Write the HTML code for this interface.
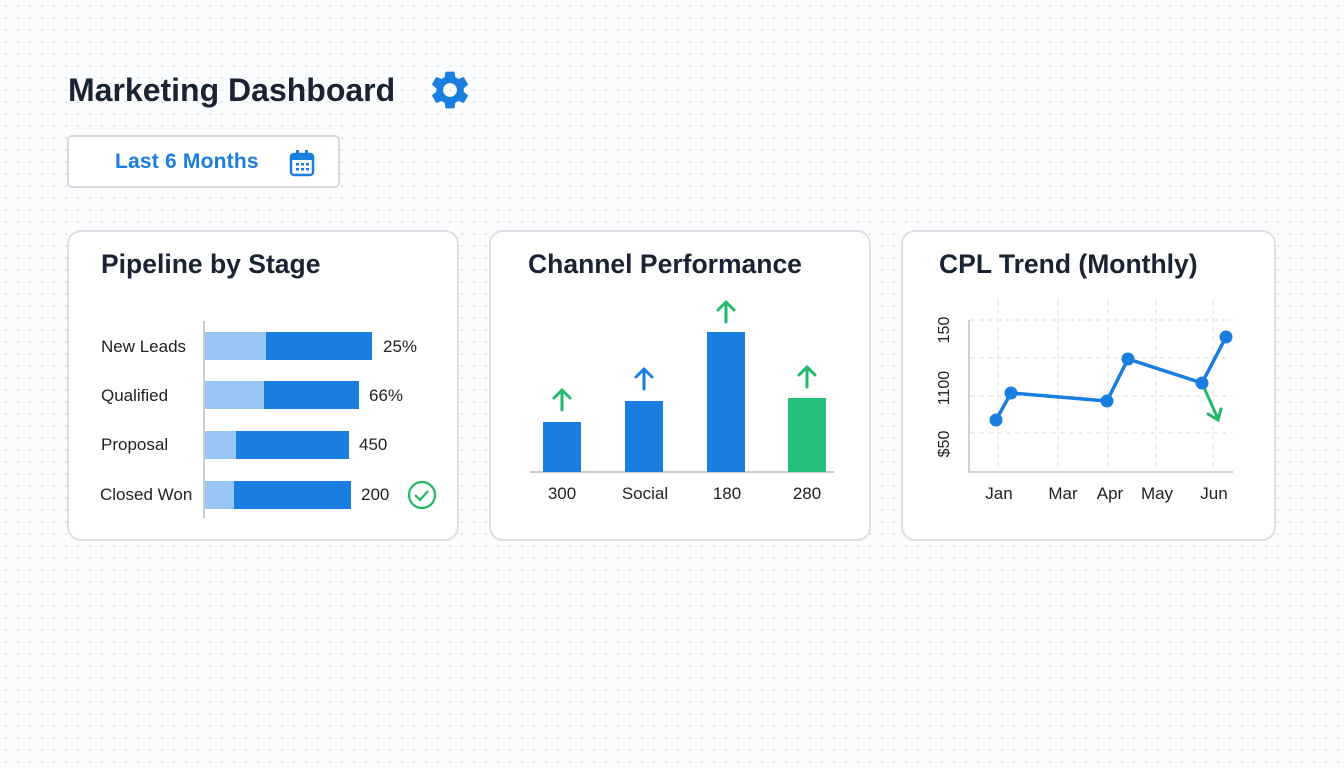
<!DOCTYPE html>
<html><head><style>
body{margin:0;width:1344px;height:768px;background:#fbfcfd;background-image:radial-gradient(#dfe3e8 1px,transparent 1.2px);background-size:12px 12px;font-family:"Liberation Sans",sans-serif;position:relative;overflow:hidden}
.abs{position:absolute}
.card{position:absolute;background:#fff;border:2px solid #dcdfe3;border-radius:14px;box-sizing:border-box}
.t{position:absolute;font-weight:bold;color:#1a2333;font-size:26.5px}
</style></head><body>
<div class="abs" style="left:68px;top:72px;font-size:32px;font-weight:bold;color:#1a2333">Marketing Dashboard</div>
<svg class="abs" style="left:427px;top:67px" width="46" height="46" viewBox="0 0 24 24"><path fill="#1a7de0" d="M19.14 12.94a7.07 7.07 0 000-1.88l2.030-1.58a.5.5 0 00.12-.61l-1.92-3.32a.5.5 0 00-.59-.22l-2.39.96a7 7 0 00-1.62-.94l-.36-2.54a.5.5 0 00-.5-.41h-3.84a.5.5 0 00-.49.41l-.36 2.54a7.4 7.4 0 00-1.62.94l-2.39-.96a.5.5 0 00-.59.22L2.71 8.87a.5.5 0 00.12.61l2.03 1.58a7 7 0 000 1.88l-2.03 1.58a.5.5 0 00-.12.61l1.92 3.32c.12.22.37.29.59.22l2.39-.96c.5.38 1.04.7 1.62.94l.36 2.54c.05.24.25.41.49.41h3.84c.24 0 .44-.17.49-.41l.36-2.54a7.4 7.4 0 001.62-.94l2.39.96c.22.08.47 0 .59-.22l1.920-3.32a.5.5 0 00-.12-.61zM12 15.6A3.6 3.6 0 1112 8.4a3.6 3.6 0 010 7.2z"/></svg>
<div class="abs" style="left:67px;top:135px;width:273px;height:53px;box-sizing:border-box;border:2px solid #d6d9dd;border-radius:5px;background:#fff"></div>
<div class="abs" style="left:115px;top:150px;font-size:21px;font-weight:bold;color:#1a7de0;letter-spacing:0.2px">Last 6 Months</div>
<svg class="abs" style="left:289px;top:149px" width="26" height="28" viewBox="0 0 26 28"><rect x="2" y="5" width="22" height="21" rx="3" fill="none" stroke="#1a7de0" stroke-width="2.5"/><rect x="2" y="5" width="22" height="6" fill="#1a7de0"/><rect x="7" y="1" width="3" height="6" fill="#1a7de0"/><rect x="16" y="1" width="3" height="6" fill="#1a7de0"/><g fill="#1a7de0"><rect x="7" y="14" width="3" height="2.5"/><rect x="12" y="14" width="3" height="2.5"/><rect x="17" y="14" width="3" height="2.5"/><rect x="7" y="19" width="3" height="2.5"/><rect x="12" y="19" width="3" height="2.5"/><rect x="17" y="19" width="3" height="2.5"/></g></svg>

<div class="card" style="left:67px;top:230px;width:392px;height:311px"></div>
<div class="card" style="left:489px;top:230px;width:382px;height:311px"></div>
<div class="card" style="left:901px;top:230px;width:375px;height:311px"></div>
<div class="t" style="left:101px;top:249px">Pipeline by Stage</div>
<div class="t" style="left:528px;top:249px">Channel Performance</div>
<div class="t" style="left:939px;top:249px">CPL Trend (Monthly)</div>

<svg class="abs" style="left:0;top:0" width="1344" height="768" font-family="Liberation Sans, sans-serif" font-size="17" fill="#222">
<line x1="204" y1="321" x2="204" y2="518" stroke="#ccc" stroke-width="2"/>
<g fill="#98c6f5"><rect x="205" y="332" width="61" height="28"/><rect x="205" y="381" width="59" height="28"/><rect x="205" y="431" width="31" height="28"/><rect x="205" y="481" width="29" height="28"/></g>
<g fill="#1a7de0"><rect x="266" y="332" width="106" height="28"/><rect x="264" y="381" width="95" height="28"/><rect x="236" y="431" width="113" height="28"/><rect x="234" y="481" width="117" height="28"/></g>
<text x="101" y="352">New Leads</text><text x="101" y="401">Qualified</text><text x="101" y="450">Proposal</text><text x="100" y="500">Closed Won</text>
<text x="383" y="352">25%</text><text x="369" y="401">66%</text><text x="359" y="450">450</text><text x="361" y="500">200</text>
<circle cx="422" cy="495" r="13" fill="none" stroke="#22b86a" stroke-width="2.2"/><path d="M415 495l5 5 8-9" fill="none" stroke="#22b86a" stroke-width="2.2"/>

<line x1="530" y1="472" x2="834" y2="472" stroke="#ccc" stroke-width="2"/>
<rect x="543" y="422" width="38" height="50" fill="#1a7de0"/><rect x="625" y="401" width="38" height="71" fill="#1a7de0"/><rect x="707" y="332" width="38" height="140" fill="#1a7de0"/><rect x="788" y="398" width="38" height="74" fill="#22c07a"/>
<g fill="none" stroke-width="3" stroke-linecap="round" stroke-linejoin="round">
<path d="M562 410v-20M554 398l8-8 8 8" stroke="#22b86a"/><path d="M644 389v-20M636 377l8-8 8 8" stroke="#1a7de0"/><path d="M726 322v-20M718 310l8-8 8 8" stroke="#22b86a"/><path d="M807 387v-20M799 375l8-8 8 8" stroke="#22b86a"/></g>
<text x="562" y="499" text-anchor="middle">300</text><text x="645" y="499" text-anchor="middle">Social</text><text x="727" y="499" text-anchor="middle">180</text><text x="807" y="499" text-anchor="middle">280</text>

<g stroke="#e2e5e8" stroke-width="1.2" stroke-dasharray="5,4"><line x1="970" y1="320" x2="1233" y2="320"/><line x1="970" y1="358" x2="1233" y2="358"/><line x1="970" y1="396" x2="1233" y2="396"/><line x1="970" y1="433" x2="1233" y2="433"/><line x1="998" y1="300" x2="998" y2="470"/><line x1="1058" y1="300" x2="1058" y2="470"/><line x1="1108" y1="300" x2="1108" y2="470"/><line x1="1156" y1="300" x2="1156" y2="470"/><line x1="1213" y1="300" x2="1213" y2="470"/></g>
<path d="M969 320V472H1233" fill="none" stroke="#d0d3d6" stroke-width="2"/>
<path d="M1202 383l16 36M1208 414l10 6 3-11" fill="none" stroke="#22b86a" stroke-width="3" stroke-linecap="round"/>
<polyline points="996,420 1011,393 1107,401 1128,359 1202,383 1226,337" fill="none" stroke="#1a7de0" stroke-width="3.5"/>
<g fill="#1a7de0"><circle cx="996" cy="420" r="6.5"/><circle cx="1011" cy="393" r="6.5"/><circle cx="1107" cy="401" r="6.5"/><circle cx="1128" cy="359" r="6.5"/><circle cx="1202" cy="383" r="6.5"/><circle cx="1226" cy="337" r="6.5"/></g>
<g font-size="16"><text transform="translate(949,330) rotate(-90)" text-anchor="middle">150</text><text transform="translate(949,388) rotate(-90)" text-anchor="middle">1100</text><text transform="translate(949,444) rotate(-90)" text-anchor="middle">$50</text></g>
<text x="999" y="499" text-anchor="middle">Jan</text><text x="1063" y="499" text-anchor="middle">Mar</text><text x="1110" y="499" text-anchor="middle">Apr</text><text x="1157" y="499" text-anchor="middle">May</text><text x="1214" y="499" text-anchor="middle">Jun</text>
</svg>
</body></html>
